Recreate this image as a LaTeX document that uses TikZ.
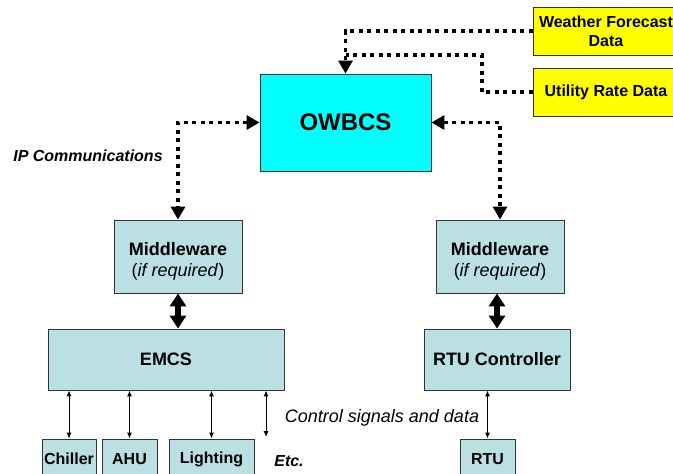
\documentclass[tikz,border=0pt]{standalone}
\usepackage{fontspec}
\setmainfont{Liberation Sans}
\usetikzlibrary{arrows.meta}

\definecolor{owcyan}{RGB}{0,255,255}
\definecolor{owyellow}{RGB}{255,255,0}
\definecolor{owblue}{RGB}{186,224,227}

\begin{document}
\begin{tikzpicture}[x=1pt, y=-1pt,
	box/.style={draw=black!80, line width=0.9pt, fill=owblue, inner sep=0pt, align=center, font=\bfseries\fontsize{18}{21}\selectfont},
	smallbox/.style={box, font=\bfseries\fontsize{16}{19}\selectfont},
	databox/.style={smallbox, fill=owyellow, minimum width=146, minimum height=48},
	ipline/.style={line width=3.5pt, dash pattern=on 4pt off 4.5pt, >={Triangle[length=13pt,width=14pt]}},
	busline/.style={line width=6pt, >={Triangle[length=13pt,width=16pt]}, <->},
	sigline/.style={line width=1pt, >={Latex[length=6pt,width=5pt]}, <->}]
			%%%%% START %%%%%
			
			\clip (0, 0) rectangle (673, 474);
			
			\node[box, fill=owcyan, minimum width=171, minimum height=97, font=\bfseries\fontsize{24}{28}\selectfont] (owbcs) at (345.5, 122.5) {OWBCS};
			
			\node[databox] (wfd) at (606, 31) {Weather Forecast\\Data};
			\node[databox] (urd) at (606, 92) {Utility Rate Data};
			
			\node[box, minimum width=128, minimum height=73] (mwL) at (178, 256.5) {\rule{0pt}{23pt}Middleware\\{\mdseries(\textit{if required})}};
			\node[box, minimum width=128, minimum height=73] (mwR) at (500, 256.5) {\rule{0pt}{23pt}Middleware\\{\mdseries(\textit{if required})}};
			
			\node[box, minimum width=236, minimum height=61] (emcs) at (166, 359.5) {EMCS};
			\node[box, minimum width=146, minimum height=61] (rtuc) at (497, 359.5) {RTU Controller};
			
			\node[smallbox, minimum width=54, minimum height=40] (chiller) at (69, 459) {Chiller};
			\node[smallbox, minimum width=55, minimum height=40] (ahu) at (129.5, 459) {AHU};
			\node[smallbox, minimum width=85, minimum height=40] (lighting) at (211.5, 459) {Lighting};
			\node[smallbox, minimum width=55, minimum height=40] (rtu) at (487.5, 459) {RTU};
			
			\node[font=\bfseries\itshape\fontsize{16}{19}\selectfont] (etc) at (289, 461) {Etc.};
			\node[font=\itshape\fontsize{18}{21}\selectfont] (ctrl) at (382, 418) {Control signals and data};
			\node[font=\bfseries\itshape\fontsize{16}{19}\selectfont] (ipcom) at (88, 156) {IP Communications};
			
			% data feeds
			\coordinate (urdbend) at (482, 55);
			\draw[ipline, ->] (wfd.west) -| (owbcs.north);
			\draw[ipline] (urd.west) -| (urdbend) -- (urdbend -| owbcs.north);
			
			% IP links
			\draw[ipline, <->] (owbcs.west) -| (mwL.north);
			\draw[ipline, <->] (owbcs.east) -| (mwR.north);
			
			\draw[busline] (mwL.south) -- (mwL.south |- emcs.north);
			\draw[busline] (rtuc.north) -- (rtuc.north |- mwR.south);
			
			% control signals
			\coordinate (etcend) at (266, 437);
			\draw[sigline] (chiller.north) -- (chiller.north |- emcs.south);
			\draw[sigline] (ahu.north) -- (ahu.north |- emcs.south);
			\draw[sigline] (lighting.north) -- (lighting.north |- emcs.south);
			\draw[sigline] (etcend) -- (etcend |- emcs.south);
			\draw[sigline] (rtu.north) -- (rtu.north |- rtuc.south);
			
			%%%%% END %%%%%
\end{tikzpicture}
\end{document}
